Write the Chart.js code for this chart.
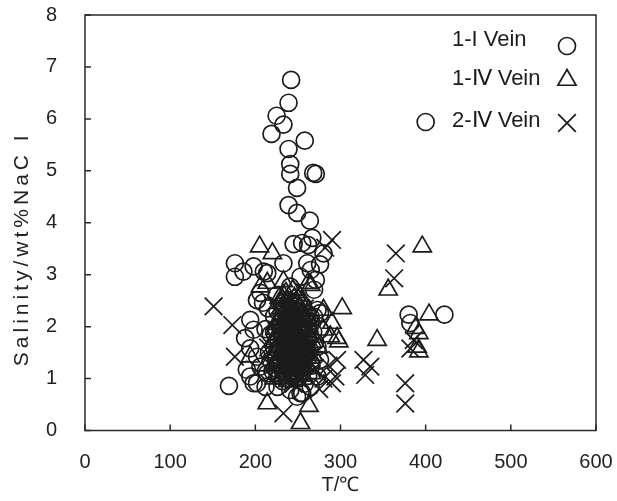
<!DOCTYPE html>
<html>
<head>
<meta charset="utf-8">
<script src="https://cdn.jsdelivr.net/npm/chart.js@4/dist/chart.umd.min.js"></script>
<style>
  body { margin: 0; background: #fff; }
  canvas { display: block; }
</style>
</head>
<body>
<canvas id="myChart" width="617" height="501"></canvas>
<script>
// 1-I vein (circles)
var veinI_T = [242, 239, 225, 233, 219, 258, 239, 241, 241, 268, 271, 249, 239, 249, 264, 267, 245, 255, 262,
  400, 380, 382, 422,
  176, 176, 186, 198, 210, 169,
  233, 214, 241, 253, 265, 261, 269, 271, 280, 276,
  206, 209, 202, 194, 198, 202, 194, 202, 212, 226, 241, 253, 265, 273, 276, 273, 276, 269, 273, 276, 265,
  206, 214, 188, 194, 190, 198, 249, 255,
  225, 232, 240, 248, 256, 222, 230, 238, 246, 254, 262, 218, 227, 236, 244, 252, 260,
  216, 224, 233, 241, 249, 257, 265, 220, 229, 238, 246, 254, 262, 232, 258, 270, 212, 215,
  226, 234, 242, 250, 258, 230, 238, 246, 254, 222, 236, 244, 252, 260, 228, 240, 248, 256, 232, 250,
  244, 236, 262, 218, 268, 226, 242, 254, 234, 248,
  229, 237, 245, 253, 233, 241, 249, 257, 227, 235, 243, 251, 259, 231, 239, 247, 255, 237, 245, 253,
  241, 249, 233, 229, 257, 261, 225, 243, 251, 239,
  222, 224, 262, 264, 266, 223, 265];
var veinI_S = [6.75, 6.31, 6.06, 5.89, 5.71, 5.58, 5.42, 5.13, 4.94, 4.96, 4.94, 4.67, 4.34, 4.19, 4.04, 3.71, 3.59, 3.61, 3.57,
  5.94, 2.23, 2.07, 2.23,
  3.22, 2.96, 3.06, 3.16, 3.06, 0.86,
  3.22, 3.03, 2.77, 2.96, 3.09, 3.22, 2.71, 2.90, 3.41, 3.20,
  2.65, 2.46, 2.51, 2.13, 1.94, 1.42, 1.04, 0.91, 0.84, 0.84, 0.78, 0.72, 0.84, 1.04, 1.36, 1.61, 1.94, 2.19, 2.32, 2.26, 2.19,
  1.23, 1.10, 1.78, 1.58, 1.17, 0.91, 0.65, 0.72,
  2.6, 2.45, 2.5, 2.55, 2.4, 2.2, 2.1, 2.2, 2.05, 2.15, 2.0, 1.85, 1.75, 1.8, 1.7, 1.85, 1.65,
  1.5, 1.4, 1.45, 1.35, 1.5, 1.4, 1.3, 1.15, 1.05, 1.1, 1.0, 1.15, 1.05, 0.95, 0.9, 1.7, 1.95, 2.35,
  2.3, 2.35, 2.25, 2.3, 2.2, 1.9, 1.95, 1.85, 1.95, 1.6, 1.55, 1.6, 1.5, 1.55, 1.25, 1.3, 1.2, 1.3, 1.15, 1.0,
  2.05, 2.1, 1.75, 1.35, 1.9, 1.1, 1.65, 1.4, 1.7, 1.35,
  2.0, 2.05, 1.95, 1.9, 1.8, 1.75, 1.8, 1.75, 1.55, 1.5, 1.45, 1.5, 1.45, 1.35, 1.2, 1.25, 1.1, 1.0, 1.05, 1.2,
  2.35, 2.3, 2.2, 1.3, 1.6, 2.25, 1.95, 1.65, 1.65, 1.4,
  1.9, 1.45, 1.95, 1.55, 1.25, 1.2, 2.1];

// 1-IV vein (triangles)
var veinIV1_T = [205, 220, 206, 214, 233, 262, 265, 302, 280, 290, 288, 296, 280, 298, 194, 214, 263, 253,
  396, 356, 404, 388, 392, 390, 392, 343,
  228, 236, 244, 252, 230, 238, 246, 254, 262, 224, 232, 240, 248, 256, 264, 220, 228, 236, 244, 252, 260, 268,
  226, 234, 242, 250, 258, 222, 238, 248, 266, 244, 240, 250, 236, 246, 232, 258, 212, 274,
  230, 238, 246, 254, 242, 250, 234, 226, 258, 262, 240, 248, 236, 244, 252, 228, 232, 256, 246, 240,
  250, 238, 244, 236, 254,
  231, 239, 247, 255, 235, 243, 251, 259, 229, 237, 245, 253, 233, 241, 249, 257, 239, 247, 243, 235,
  251, 227, 261, 245, 237, 255, 241, 249, 233, 247,
  223, 225, 263, 265, 267, 221];
var veinIV1_S = [3.54, 3.41, 2.77, 2.84, 2.87, 2.84, 2.80, 2.35, 2.32, 2.07, 1.81, 1.78, 1.94, 1.71, 1.42, 0.52, 0.47, 0.14,
  3.54, 2.71, 2.23, 1.97, 1.87, 1.61, 1.52, 1.74,
  2.55, 2.65, 2.7, 2.6, 2.35, 2.3, 2.4, 2.25, 2.3, 2.05, 1.95, 2.0, 1.9, 1.95, 1.8, 1.7, 1.6, 1.65, 1.55, 1.6, 1.5, 1.45,
  1.3, 1.25, 1.2, 1.3, 1.2, 1.0, 0.95, 1.05, 1.1, 1.45, 1.75, 1.75, 1.45, 2.15, 1.6, 1.7, 1.25, 1.6,
  2.45, 2.5, 2.55, 2.45, 2.1, 2.05, 2.15, 1.85, 2.1, 1.6, 1.85, 1.65, 1.35, 1.3, 1.4, 1.45, 1.05, 1.05, 1.15, 1.0,
  1.55, 1.75, 1.85, 2.0, 1.25,
  2.2, 2.25, 2.2, 2.3, 2.0, 1.95, 2.0, 1.9, 1.7, 1.75, 1.7, 1.75, 1.5, 1.5, 1.45, 1.35, 1.25, 1.25, 1.1, 1.15,
  1.15, 1.35, 1.4, 1.6, 1.6, 1.55, 2.35, 2.45, 2.6, 1.85,
  1.95, 1.5, 2.0, 1.4, 1.7, 1.25];

// 2-IV vein (crosses)
var veinIV2_T = [151, 173, 176, 233, 290, 282, 365, 363, 382, 386, 327, 335, 329, 376, 376, 296, 294, 290,
  225, 240, 250, 235, 260, 245, 270, 255, 228, 265, 215, 275, 280, 286,
  238, 248, 232, 252, 244, 258, 226, 262, 242, 236, 250, 246, 254, 230];
var veinIV2_S = [2.39, 2.03, 1.42, 0.33, 3.67, 3.52, 3.41, 2.93, 1.58, 1.74, 1.36, 1.23, 1.07, 0.91, 0.52, 1.36, 1.04, 0.91,
  1.9, 1.5, 2.2, 1.1, 1.3, 0.9, 1.2, 1.7, 2.4, 2.0, 1.6, 0.8, 1.0, 1.25,
  2.0, 1.4, 1.3, 1.0, 2.4, 2.35, 1.2, 1.55, 1.8, 1.65, 1.9, 1.2, 1.5, 1.5];

var xTicks = [0, 100, 200, 300, 400, 500, 600];
var yTicks = [0, 1, 2, 3, 4, 5, 6, 7, 8];
var legendNames = ["1-I Vein", "1-Ⅳ Vein", "2-Ⅳ Vein"];
var yTitle = "Salinity/wt%NaC I";

var ink = "#1c1c1c";
var fontFam = "'Liberation Sans', Arial, sans-serif";

function pts(xs, ys) {
  var out = [];
  for (var i = 0; i < xs.length; i++) out.push({x: xs[i], y: ys[i]});
  return out;
}

var styles = [
  {pointStyle: "circle", radius: 8.5},
  {pointStyle: "triangle", radius: 10.5},
  {pointStyle: "crossRot", radius: 12.5}
];

var datasets = [
  {label: legendNames[0], data: pts(veinI_T, veinI_S)},
  {label: legendNames[1], data: pts(veinIV1_T, veinIV1_S)},
  {label: legendNames[2], data: pts(veinIV2_T, veinIV2_S)}
].map(function (d, i) {
  d.pointStyle = styles[i].pointStyle;
  d.pointRadius = styles[i].radius;
  d.pointBorderWidth = 1.7;
  d.pointBorderColor = ink;
  d.pointBackgroundColor = "rgba(0,0,0,0)";
  d.showLine = false;
  return d;
});

// box round the plot, inward tick marks, spaced-out y title
var framePlugin = {
  id: "frame",
  beforeDatasetsDraw: function (chart) {
    var ctx = chart.ctx, a = chart.chartArea, x = chart.scales.x, y = chart.scales.y;
    ctx.save();
    ctx.strokeStyle = "#2a2a2a";
    ctx.lineWidth = 1.5;
    ctx.strokeRect(a.left, a.top, a.right - a.left, a.bottom - a.top);
    ctx.beginPath();
    xTicks.forEach(function (v) {
      var px = x.getPixelForValue(v);
      ctx.moveTo(px, a.bottom);
      ctx.lineTo(px, a.bottom - 6);
    });
    yTicks.forEach(function (v) {
      var py = y.getPixelForValue(v);
      ctx.moveTo(a.left, py);
      ctx.lineTo(a.left + 6, py);
    });
    ctx.stroke();

    ctx.translate(22, (a.top + a.bottom) / 2 + 26);
    ctx.rotate(-Math.PI / 2);
    ctx.font = "21px " + fontFam;
    ctx.letterSpacing = "4px";
    ctx.fillStyle = "#222";
    ctx.textAlign = "center";
    ctx.textBaseline = "middle";
    ctx.fillText(yTitle, 0, 0);
    ctx.restore();
  }
};

// legend: label text, then marker to its right
var legendPlugin = {
  id: "sideLegend",
  afterDraw: function (chart) {
    var ctx = chart.ctx;
    var rows = [40, 79, 121];
    var marks = [46, 80, 123];
    ctx.save();
    ctx.font = "22px " + fontFam;
    ctx.textBaseline = "middle";
    ctx.textAlign = "left";
    legendNames.forEach(function (t, i) {
      ctx.fillStyle = ink;
      ctx.fillText(t, 452, rows[i]);
      ctx.fillStyle = "rgba(0,0,0,0)";
      ctx.strokeStyle = ink;
      ctx.lineWidth = 1.7;
      Chart.helpers.drawPoint(ctx, {pointStyle: styles[i].pointStyle, radius: styles[i].radius, borderWidth: 1.7}, 567, marks[i]);
    });
    ctx.restore();
  }
};

var ctx = document.getElementById("myChart");

var myChart = new Chart(ctx, {
  type: "scatter",
  data: {datasets: datasets},
  options: {
    responsive: false,
    animation: false,
    layout: {padding: {top: 15, right: 21, left: 0, bottom: 0}},
    plugins: {legend: {display: false}, tooltip: {enabled: false}},
    scales: {
      x: {
        type: "linear", min: 0, max: 600,
        grid: {display: false, drawTicks: false},
        border: {display: false},
        ticks: {stepSize: 100, padding: 20, color: "#222", font: {size: 20, family: fontFam}, maxRotation: 0},
        title: {display: true, text: "T/℃", color: "#222", font: {size: 20, family: fontFam}, padding: {top: 0, bottom: 4}},
        afterFit: function (s) { s.height = 70.5; s.paddingLeft = 0; s.paddingRight = 0; }
      },
      y: {
        type: "linear", min: 0, max: 8,
        grid: {display: false, drawTicks: false},
        border: {display: false},
        ticks: {stepSize: 1, padding: 28, color: "#222", font: {size: 20, family: fontFam}},
        afterFit: function (s) { s.width = 85; s.paddingTop = 0; s.paddingBottom = 0; }
      }
    }
  },
  plugins: [framePlugin, legendPlugin]
});

// pull the plot area onto the reference frame (left 85, right 596, top 15)
var area = myChart.chartArea;
var pad = myChart.options.layout.padding;
pad.top = pad.top + (15 - area.top);
pad.right = pad.right + (area.right - 596);
myChart.update();
</script>
</body>
</html>
